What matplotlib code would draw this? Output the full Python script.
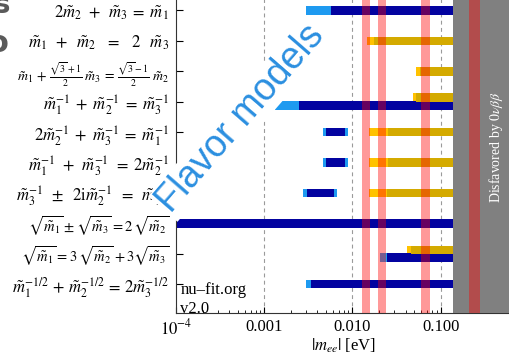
import numpy as np
import matplotlib
matplotlib.use("Agg")
import matplotlib.pyplot as plt

plt.rcParams['font.family'] = 'Liberation Serif'
plt.rcParams['mathtext.fontset'] = 'stix'

# mass sum rules, top to bottom
rules = [
    r'$2\tilde{m}_2 \;\,+\;\, \tilde{m}_3 \;=\; \tilde{m}_1$',
    r'$\tilde{m}_1 \;\;+\;\; \tilde{m}_2 \;\;\;=\;\;\; 2\;\;\;\tilde{m}_3$',
    r'$\tilde{m}_1 \,+\, \frac{\sqrt{3}+1}{2}\;\tilde{m}_3 \,=\, \frac{\sqrt{3}-1}{2}\;\tilde{m}_2$',
    r'$\tilde{m}_1^{-1} \;+\; \tilde{m}_2^{-1} \;=\; \tilde{m}_3^{-1}$',
    r'$2\tilde{m}_2^{-1} \;+\; \tilde{m}_3^{-1} \;=\; \tilde{m}_1^{-1}$',
    r'$\tilde{m}_1^{-1} \;\,+\;\, \tilde{m}_3^{-1} \;\,=\; 2\tilde{m}_2^{-1}$',
    r'$\tilde{m}_3^{-1} \;\;\pm\;\; 2\mathrm{i}\tilde{m}_2^{-1} \;\;=\;\; \tilde{m}_1^{-1}$',
    r'$\sqrt{\tilde{m}_1} \pm \sqrt{\tilde{m}_3} = 2\,\sqrt{\tilde{m}_2}$',
    r'$\sqrt{\tilde{m}_1} = 3\,\sqrt{\tilde{m}_2}+3\sqrt{\tilde{m}_3}$',
    r'$\tilde{m}_1^{-1/2} \,+\, \tilde{m}_2^{-1/2} \,=\, 2\tilde{m}_3^{-1/2}$',
]
rows = np.arange(1, 11)

# normal ordering: |m_ee| ranges (outer = 3 sigma, inner = 1 sigma), eV
no_rows = [1, 4, 5, 6, 7, 8, 9, 10]
no_shift = [0, 0.13, 0, 0, 0, 0, 0.13, 0]
no_outer_lo = [0.00296, 0.00131, 0.0046, 0.0046, 0.00272, 1e-4, 0.0208, 0.0030]
no_inner_lo = [0.00567, 0.0025, 0.0050, 0.0050, 0.00306, 1e-4, 0.0245, 0.0034]
no_inner_hi = [0.14, 0.14, 0.0083, 0.0083, 0.00618, 0.14, 0.14, 0.14]
no_outer_hi = [0.14, 0.14, 0.0088, 0.0088, 0.00663, 0.14, 0.14, 0.14]

# inverted ordering
io_rows = [2, 3, 4, 5, 6, 7, 9]
io_shift = [0, 0, -0.13, 0, 0, 0, -0.13]
io_outer_lo = [0.0145, 0.0526, 0.0483, 0.0155, 0.0155, 0.0155, 0.0411]
io_inner_lo = [0.0175, 0.0583, 0.0526, 0.0255, 0.0255, 0.0245, 0.0457]
io_inner_hi = [0.14, 0.14, 0.14, 0.14, 0.14, 0.14, 0.14]

# future sensitivities and current bound (eV)
sens_lo = [0.0127, 0.0196, 0.0593, 0.212]
sens_hi = [0.0160, 0.0243, 0.0750, 0.278]
disfavored = 0.14

xticks = [1e-4, 1e-3, 1e-2, 1e-1]
xticklabels = [r'$10^{-4}$', '0.001', '0.010', '0.100']

fig = plt.figure(figsize=(5.1, 3.57), dpi=100)
ax = fig.add_axes([176 / 510, 44 / 357, (515 - 176) / 510, 0.9325])
ax.set_xscale('log')
ax.set_xlim(1e-4, 10 ** (-4 + (515 - 176) / 88.2))
ax.set_ylim(10.95, 0.0)

for xv in xticks[1:]:
    ax.axvline(xv, color='#9a9a9a', lw=0.8, ls=(0, (3.5, 3)), zorder=0)

h = 0.28
y_no = np.array(no_rows) + np.array(no_shift)
ax.barh(y_no, np.array(no_outer_hi) - np.array(no_outer_lo), left=no_outer_lo,
        height=h, color='#1e9af0', lw=0, zorder=2)
ax.barh(y_no, np.array(no_inner_hi) - np.array(no_inner_lo), left=no_inner_lo,
        height=h, color='#0303a0', lw=0, zorder=2.1)

y_io = np.array(io_rows) + np.array(io_shift)
ax.barh(y_io, np.array(io_inner_hi) - np.array(io_outer_lo), left=io_outer_lo,
        height=h, color='#ffc200', lw=0, zorder=2)
ax.barh(y_io, np.array(io_inner_hi) - np.array(io_inner_lo), left=io_inner_lo,
        height=h, color='#d4aa00', lw=0, zorder=2.1)

ax.axvspan(disfavored, 10, color='#808080', lw=0, zorder=3)
for lo, hi in zip(sens_lo, sens_hi):
    ax.axvspan(lo, hi, color='red', alpha=0.4, lw=0, zorder=4)

ax.text(10 ** (-4 + (496 - 176) / 88.2), 5.5, r'Disfavored by $0\nu\beta\beta$',
        color='white', fontsize=10, rotation=90, ha='center', va='center', zorder=5)

ax.text(1.12e-4, 9.93, 'nu\u2013fit.org\nv2.0', fontsize=12, ha='left', va='top',
        linespacing=1.25, zorder=5)

ax.set_yticks(rows)
ax.set_yticklabels(rules, fontsize=12)
ticklabels = ax.get_yticklabels()
ticklabels[2].set_fontsize(10)
ticklabels[7].set_fontsize(10.5)
ticklabels[8].set_fontsize(10.5)
ax.set_xticks(xticks)
ax.set_xticklabels(xticklabels, fontsize=12)
ax.tick_params(axis='y', direction='in', length=5, width=0.8, pad=5)
ax.tick_params(axis='x', which='major', direction='in', length=4, width=0.8, pad=4)
ax.tick_params(axis='x', which='minor', direction='in', length=2, width=0.6)
ax.set_xlabel(r'$|m_{ee}|$ [eV]', fontsize=12)
ax.xaxis.set_label_coords(0.493, -0.072)
for side in ['top', 'right']:
    ax.spines[side].set_visible(False)
for side in ['left', 'bottom']:
    ax.spines[side].set_color('#333333')
    ax.spines[side].set_linewidth(0.8)

fig.text(241 / 510, 1 - 119 / 357, 'Flavor models', family='Liberation Sans',
         fontsize=27, color='#2b8fe0', rotation=49, rotation_mode='anchor',
         ha='center', va='center', zorder=10,
         bbox=dict(facecolor='white', edgecolor='none', pad=1))

# title letters running off the left edge
fig.text(2 / 510, 1 - 13 / 357, 's', family='DejaVu Sans', fontweight='bold',
         fontsize=20, color='#5a5a5a', ha='center', va='baseline')
fig.text(-2 / 510, 1 - 44 / 357, 'o', family='DejaVu Sans', fontweight='bold',
         fontsize=22, color='#5a5a5a', ha='center', va='center')

fig.savefig('out.png', dpi=100)
